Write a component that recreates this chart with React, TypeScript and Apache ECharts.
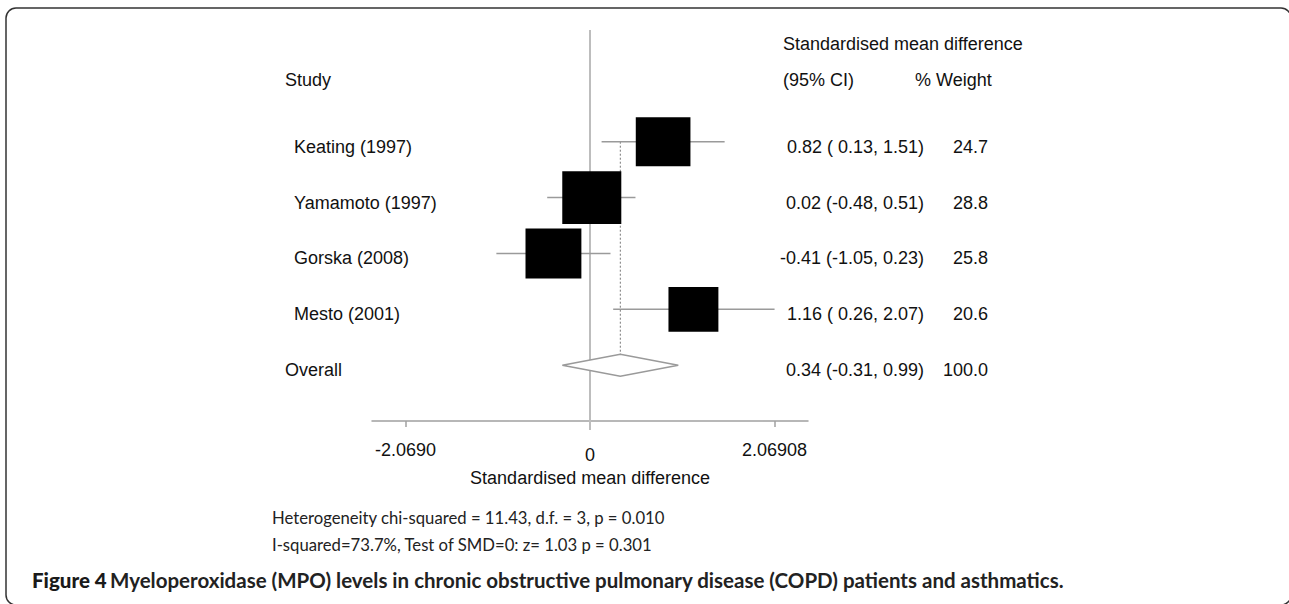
import React, { useEffect, useRef } from "react";
import * as echarts from "echarts";

const studies = ["Keating (1997)", "Yamamoto (1997)", "Gorska (2008)", "Mesto (2001)"];
const smd = [0.82, 0.02, -0.41, 1.16];
const ciLow = [0.13, -0.48, -1.05, 0.26];
const ciHigh = [1.51, 0.51, 0.23, 2.07];
const weights = [24.7, 28.8, 25.8, 20.6];

const overallLabel = "Overall";
const overallSmd = 0.34;
const overallLow = -0.31;
const overallHigh = 0.99;
const overallWeight = 100.0;

const tickValues = [-2.069, 0, 2.06908];
const tickLabels = ["-2.0690", "0", "2.06908"];

const axisTitle = "Standardised mean difference";
const headerTop = "Standardised mean difference";
const headerCI = "(95% CI)";
const headerWeight = "% Weight";
const headerStudy = "Study";
const footnote1 = "Heterogeneity chi-squared = 11.43, d.f. = 3, p = 0.010";
const footnote2 = "I-squared=73.7%, Test of SMD=0: z= 1.03 p = 0.301";
const captionBold = "Figure 4";
const captionText = "Myeloperoxidase (MPO) levels in chronic obstructive pulmonary disease (COPD) patients and asthmatics.";

const ARIAL = '"Liberation Sans", Arial, sans-serif';
const CAL = 'Lato, "Open Sans", sans-serif';

const fmtLo = (v: number) => (v >= 0 ? " " : "") + v.toFixed(2);
const ciText = (e: number, lo: number, hi: number) => `${e.toFixed(2)} (${fmtLo(lo)}, ${hi.toFixed(2)})`;

export default function App() {
  const ref = useRef<HTMLDivElement>(null);
  useEffect(() => {
    if (!ref.current) return;
    const chart = echarts.init(ref.current, undefined, { renderer: "svg" });

    const rows = studies.map((s, i) => [i, smd[i], ciLow[i], ciHigh[i], weights[i], 0, s]);
    const allRows = [...rows, [studies.length, overallSmd, overallLow, overallHigh, overallWeight, 1, overallLabel]];
    const overallRow = studies.length;

    const option: any = {
      animation: false,
      grid: { left: 372, top: 30, width: 436, height: 391, containLabel: false },
      xAxis: {
        type: "value",
        min: -2.445,
        max: 2.445,
        splitLine: { show: false },
        axisLine: { show: true, onZero: false, lineStyle: { color: "#a0a0a0", width: 1.5 } },
        axisTick: { show: true, customValues: tickValues, length: 6, lineStyle: { color: "#a0a0a0", width: 1.5 } },
        axisLabel: {
          customValues: tickValues,
          margin: 20,
          color: "#111",
          fontFamily: ARIAL,
          fontSize: 18,
          lineHeight: 18,
          formatter: (v: number) => {
            let best = 0;
            tickValues.forEach((t, k) => {
              if (Math.abs(t - v) < Math.abs(tickValues[best] - v)) best = k;
            });
            return tickValues[best] === 0 ? "{z|" + tickLabels[best] + "}" : tickLabels[best];
          },
          rich: { z: { fontFamily: ARIAL, fontSize: 18, color: "#111", padding: [10, 0, 0, 0] } },
        },
        name: axisTitle,
        nameLocation: "middle",
        nameGap: 45,
        nameTextStyle: { fontFamily: ARIAL, fontSize: 18, color: "#111", lineHeight: 18 },
      },
      yAxis: { type: "value", min: -2, max: 5, inverse: true, show: false, splitLine: { show: false } },
      series: [
        {
          type: "line",
          data: [[0, -2], [0, 5.16]],
          showSymbol: false,
          clip: false,
          silent: true,
          z: 1,
          lineStyle: { color: "#bdbdbd", width: 2 },
        },
        {
          type: "line",
          data: [[overallSmd, 0], [overallSmd, overallRow]],
          showSymbol: false,
          silent: true,
          z: 2,
          lineStyle: { color: "#777", width: 1, type: [2, 2] },
        },
        {
          type: "custom",
          z: 3,
          silent: true,
          clip: false,
          data: rows.map((r) => [r[2], r[3], r[0]]),
          renderItem: (params: any, api: any) => {
            const a = api.coord([api.value(0), api.value(2)]);
            const b = api.coord([api.value(1), api.value(2)]);
            return {
              type: "line",
              shape: { x1: a[0], y1: a[1], x2: b[0], y2: b[1] },
              style: { stroke: "#9a9a9a", lineWidth: 1.5 },
            };
          },
        },
        {
          type: "scatter",
          z: 4,
          silent: true,
          symbol: "rect",
          data: rows.map((r) => [r[1], r[0], r[4]]),
          symbolSize: (val: number[]) => [11 * Math.sqrt(val[2]), 9.85 * Math.sqrt(val[2])],
          itemStyle: { color: "#000", opacity: 1 },
        },
        {
          type: "custom",
          z: 3,
          silent: true,
          clip: false,
          data: [[overallLow, overallSmd, overallHigh, overallRow]],
          renderItem: (params: any, api: any) => {
            const l = api.coord([api.value(0), api.value(3)]);
            const c = api.coord([api.value(1), api.value(3)]);
            const h = api.coord([api.value(2), api.value(3)]);
            const hh = 11;
            return {
              type: "polygon",
              shape: { points: [[l[0], l[1]], [c[0], c[1] - hh], [h[0], h[1]], [c[0], c[1] + hh]] },
              style: { fill: "#fff", stroke: "#9a9a9a", lineWidth: 1.5 },
            };
          },
        },
        {
          type: "custom",
          z: 5,
          silent: true,
          clip: false,
          data: allRows,
          renderItem: (params: any, api: any) => {
            const idx = params.dataIndex;
            const r: any = allRows[idx];
            const y = api.coord([0, r[0]])[1] + 5;
            const isOverall = r[5] === 1;
            const font = `18px ${ARIAL}`;
            return {
              type: "group",
              children: [
                { type: "text", x: isOverall ? 285 : 294, y, style: { text: r[6], font, fill: "#111", align: "left", verticalAlign: "middle" } },
                { type: "text", x: 924, y, style: { text: ciText(r[1], r[2], r[3]), font, fill: "#111", align: "right", verticalAlign: "middle" } },
                { type: "text", x: 988, y, style: { text: r[4].toFixed(1), font, fill: "#111", align: "right", verticalAlign: "middle" } },
              ],
            };
          },
        },
      ],
      graphic: [
        {
          type: "rect",
          silent: true,
          shape: { x: 6, y: 8, width: 1285, height: 597, r: 10 },
          style: { fill: "none", stroke: "#333", lineWidth: 1.5 },
        },
        { type: "text", x: 783, y: 44, style: { text: headerTop, font: `18px ${ARIAL}`, fill: "#111", verticalAlign: "middle" } },
        { type: "text", x: 783, y: 80, style: { text: headerCI, font: `18px ${ARIAL}`, fill: "#111", verticalAlign: "middle" } },
        { type: "text", x: 915, y: 80, style: { text: headerWeight, font: `18px ${ARIAL}`, fill: "#111", verticalAlign: "middle" } },
        { type: "text", x: 285, y: 80, style: { text: headerStudy, font: `18px ${ARIAL}`, fill: "#111", verticalAlign: "middle" } },
        { type: "text", x: 272, y: 518, style: { text: footnote1, font: `16.7px ${CAL}`, fill: "#222", verticalAlign: "middle" } },
        { type: "text", x: 272, y: 545, style: { text: footnote2, font: `16.7px ${CAL}`, fill: "#222", verticalAlign: "middle" } },
        {
          type: "text",
          x: 32,
          y: 580,
          style: {
            text: "{b|" + captionBold + "} {n|" + captionText + "}",
            rich: {
              b: { font: `900 20.5px ${CAL}`, fill: "#1a1a1a" },
              n: { font: `bold 20.5px ${CAL}`, fill: "#222" },
            },
            verticalAlign: "middle",
          },
        },
      ],
    };
    chart.setOption(option);
    return () => chart.dispose();
  }, []);
  return <div ref={ref} style={{ position: "fixed", left: 0, top: 0, width: 1289, height: 604, background: "#fff" }} />;
}
